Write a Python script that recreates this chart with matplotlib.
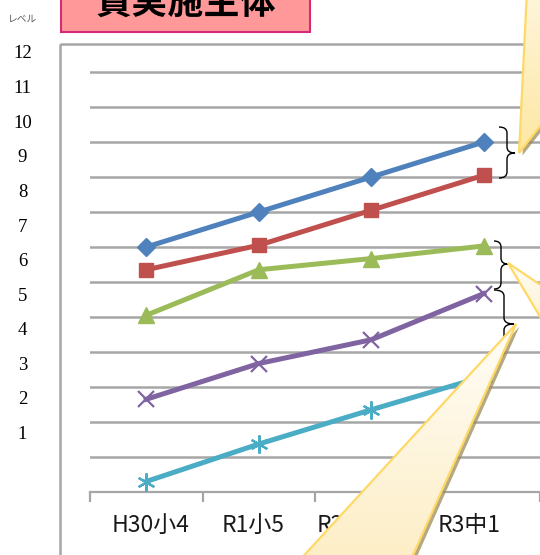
import numpy as np
import matplotlib
matplotlib.use("Agg")
import matplotlib.pyplot as plt
from matplotlib.patches import Rectangle, Polygon, PathPatch
from matplotlib.path import Path

# ---------------- data ----------------
categories = ["H30小4", "R1小5", "R2小6", "R3中1"]
series_blue = [7.0, 8.0, 9.0, 10.0]
series_red = [6.35, 7.05, 8.05, 9.05]
series_green = [5.05, 6.35, 6.67, 7.03]
series_purple = [2.65, 3.67, 4.35, 5.67]
series_cyan = [0.3, 1.37, 2.35, 3.3]
level_labels = ["12", "11", "10", "9", "8", "7", "6", "5", "4", "3", "2", "1"]
title_text = "貫実施主体"
level_caption = "レベル"

W, H = 540, 555
fig = plt.figure(figsize=(W / 100, H / 100), dpi=100)
fig.patch.set_facecolor("white")

def fx(x):
    return x / W

def fy(y):
    return 1 - y / H

# ---------------- main axes ----------------
ymax = 12.1
y_axis_px = 492
y_top_px = y_axis_px - ymax * 35
ax = fig.add_axes([fx(90), fy(y_axis_px), fx(540) - fx(90), fy(y_top_px) - fy(y_axis_px)])
ax.set_xlim(0, 4)
ax.set_ylim(0, ymax)
ax.set_facecolor("none")
for s in ["top", "right", "left"]:
    ax.spines[s].set_visible(False)
ax.spines["bottom"].set_color("#a6a6a6")
ax.spines["bottom"].set_linewidth(1.6)

for v in range(1, 13):
    ax.axhline(v, color="#a6a6a6", lw=1.8, zorder=1)

ax.set_yticks([])
ax.set_xticks(range(0, 5))
ax.set_xticklabels([])
ax.tick_params(axis="x", which="major", length=7, width=1.6, color="#a6a6a6", direction="out")
xpos = np.arange(len(categories)) + 0.5
# label placement shift (pixels) as seen in the reference layout
label_shift_px = np.array([4, -6, -23, -15])
ax.set_xticks(xpos + label_shift_px / 112.5, minor=True)
ax.set_xticklabels(categories, minor=True, fontsize=16.5, family=["Noto Sans CJK JP", "DejaVu Sans"])
ax.tick_params(axis="x", which="minor", length=0, pad=16, labelcolor="#1a1a1a")

lw = 3.6
ax.plot(xpos, series_cyan, color="#4BACC6", lw=lw, marker=(6, 2, 0), ms=13, mew=1.6, zorder=3)
ax.plot(xpos, series_purple, color="#8064A2", lw=lw, marker="x", ms=11, mew=1.6, zorder=3)
ax.plot(xpos, series_green, color="#9BBB59", lw=lw, marker="^", ms=12, zorder=3)
ax.plot(xpos, series_red, color="#C0504D", lw=lw, marker="s", ms=10.5, zorder=3)
ax.plot(xpos, series_blue, color="#4F81BD", lw=lw, marker="D", ms=9, zorder=3)

# ---------------- overlay (pixel coordinates) ----------------
ov = fig.add_axes([0, 0, 1, 1], zorder=5)
ov.set_xlim(0, W)
ov.set_ylim(H, 0)
ov.axis("off")
ov.patch.set_alpha(0)

# chart area border
ov.add_patch(Rectangle((60, 44), 600, 600, fill=False, ec="#a6a6a6", lw=1.8))

# title box
ov.add_patch(Rectangle((61, -10), 249, 41.5, fc="#FF9999", ec="#D42A78", lw=1.5))
ov.text(186, 4, title_text, ha="center", va="center", fontsize=26, fontweight="bold",
        family=["Noto Sans CJK JP", "DejaVu Sans"], color="black")

# caption and level labels
ov.text(22, 19, level_caption, ha="center", va="center", fontsize=7,
        family=["Noto Sans CJK JP", "DejaVu Sans"], color="#595959", style="italic")
for i, lab in enumerate(level_labels):
    ov.text(22.5, 54 + i * 34.6, lab, ha="center", va="center", fontsize=13.5,
            family=["Liberation Serif", "DejaVu Serif"], color="black")

# braces
def brace(x0, ytop, ybot, xtip, ytip):
    xm = (x0 + xtip) / 2
    r = 6
    verts = [(x0, ytop), (xm, ytop), (xm, ytop + r), (xm, ytop + r + 0.01),
             (xm, ytip - r), (xm, ytip), (xtip, ytip),
             (xm, ytip), (xm, ytip + r), (xm, ybot - r),
             (xm, ybot), (x0, ybot)]
    codes = [Path.MOVETO, Path.CURVE3, Path.CURVE3, Path.LINETO,
             Path.LINETO, Path.CURVE3, Path.CURVE3,
             Path.CURVE3, Path.CURVE3, Path.LINETO,
             Path.CURVE3, Path.CURVE3]
    ov.add_patch(PathPatch(Path(verts, codes), fill=False, ec="black", lw=1.0))

brace(499, 127, 178, 515, 153)
brace(494, 241, 289, 508, 264)
brace(494, 290, 358, 514, 324)

# callouts with gradient fill
def callout(pts, c_top, c_bot):
    pts = np.array(pts, dtype=float)
    sh = Polygon(pts + np.array([3.5, 2.5]), closed=True, fc="#9c8c5a", ec="none", alpha=0.75, zorder=6)
    ov.add_patch(sh)
    poly = Polygon(pts, closed=True, fc="none", ec="#FFD966", lw=1.6, zorder=8)
    ov.add_patch(poly)
    y0, y1 = pts[:, 1].min(), pts[:, 1].max()
    x0, x1 = pts[:, 0].min(), pts[:, 0].max()
    grad = np.linspace(0, 1, 64)[:, None]
    c0 = np.array(matplotlib.colors.to_rgb(c_top))
    c1 = np.array(matplotlib.colors.to_rgb(c_bot))
    img = c0[None, None, :] * (1 - grad[:, :, None]) + c1[None, None, :] * grad[:, :, None]
    im = ov.imshow(img, extent=[x0, x1, y1, y0], aspect="auto", zorder=7, interpolation="bilinear")
    clip = Polygon(pts, closed=True, transform=ov.transData)
    im.set_clip_path(clip)

callout([(527, -10), (519, 153), (548, 116), (548, -10)], "#fff6dc", "#fde7a2")
callout([(508, 263), (548, 290), (548, 330)], "#fffdf6", "#fdf0cc")
callout([(516, 324), (298, 562), (410, 562)], "#fffdf8", "#fdeec6")

ov.set_xlim(0, W)
ov.set_ylim(H, 0)

fig.savefig("out.png", dpi=100)
